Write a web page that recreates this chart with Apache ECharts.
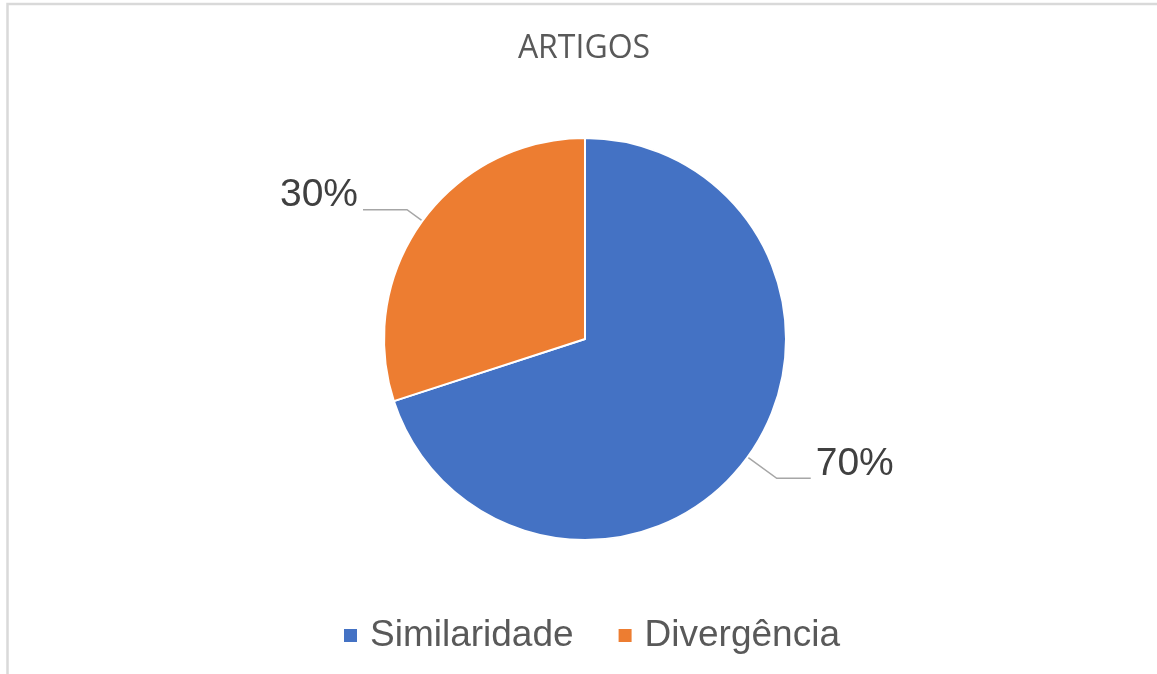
<!DOCTYPE html>
<html>
<head>
<meta charset="utf-8">
<script src="https://cdn.jsdelivr.net/npm/echarts@6/dist/echarts.min.js"></script>
<style>
html,body{margin:0;padding:0;background:#fff;}
#chart{width:1157px;height:674px;}
</style>
</head>
<body>
<div id="chart"></div>
<script>
const title = 'ARTIGOS';
const categories = ['Similaridade', 'Divergência'];
const values = [70, 30];
const colors = ['#4472C4', '#ED7D31'];

const lineLens = [[36, 34], [19, 44]];

const chart = echarts.init(document.getElementById('chart'));
chart.setOption({
  animation: false,
  color: colors,
  title: {
    text: title,
    left: 579,
    textAlign: 'center',
    top: 28,
    textStyle: {fontFamily: 'Open Sans', fontSize: 32, fontWeight: 'normal', color: '#595959'}
  },
  legend: {
    data: categories,
    top: 612,
    left: 337,
    icon: 'rect',
    itemWidth: 15,
    itemHeight: 15,
    itemGap: 43,
    textStyle: {fontFamily: 'Liberation Sans', fontSize: 37, color: '#595959', padding: [0, 0, 0, 7]}
  },
  graphic: [{
    type: 'rect',
    shape: {x: 7.5, y: 4, width: 1300, height: 800},
    style: {fill: 'none', stroke: '#d9d9d9', lineWidth: 2.5},
    silent: true
  }],
  series: [{
    type: 'pie',
    center: [585, 339],
    radius: [0, 201],
    startAngle: 90,
    clockwise: true,
    itemStyle: {borderColor: '#fff', borderWidth: 2},
    label: {
      show: true,
      formatter: p => '{v|' + Math.round(p.percent) + '%}',
      rich: {
        v: {
          fontFamily: 'Liberation Sans',
          fontSize: 39,
          color: '#404040',
          padding: [0, 0, 28, 0]
        }
      }
    },
    labelLine: {show: true, lineStyle: {color: '#a6a6a6', width: 1.5}},
    data: categories.map((c, i) => ({
      name: c,
      value: values[i],
      labelLine: {length: lineLens[i][0], length2: lineLens[i][1]}
    }))
  }]
});
</script>
</body>
</html>
